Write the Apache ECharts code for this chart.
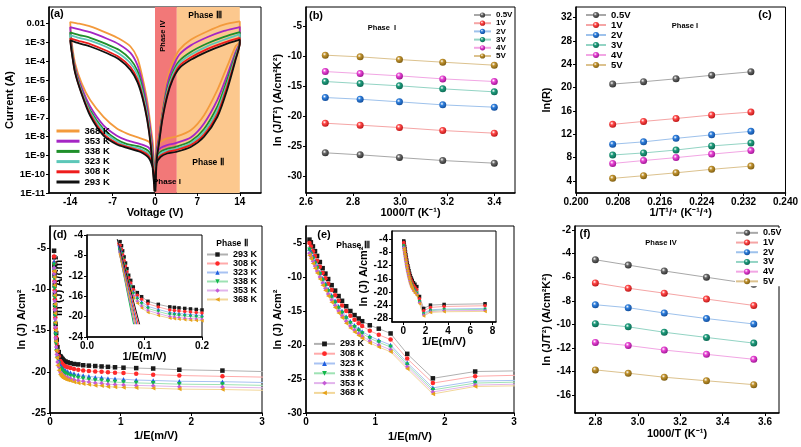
<!DOCTYPE html>
<html><head><meta charset="utf-8">
<script src="https://cdn.jsdelivr.net/npm/echarts@6/dist/echarts.min.js"></script>
<style>html,body{margin:0;padding:0;background:#fff}#c{width:801px;height:447px}</style>
</head><body><div id="c"></div>
<script>
// ================= DATA =================
// Panel (a): I-V loops, values are log10(Current/A)
const tempsA = ['368 K','353 K','338 K','323 K','308 K','293 K'];
const aPosLowX = [0.05,0.27,0.93,2.0,3.4,5.9,8.1,10.3,11.9,13.3,14];
const aPosUpX  = [14,11.4,8.6,5.9,4.0,2.9,2.0,1.2,0.66,0.27,0.05];
const aNegLowX = [-0.05,-0.3,-1,-2.4,-4.6,-6.3,-8.5,-10.7,-12.1,-13.2,-13.8,-14];
const aNegUpX  = [-14,-12.5,-10.7,-7.9,-5.9,-4.05,-2.9,-2.1,-1.3,-0.7,-0.3,-0.05];
const a368PosLow = [-10.9,-8.55,-8.28,-8.1,-8.01,-7.66,-6.86,-5.52,-4.28,-3.21,-2.94];
const a368PosUp  = [-1.88,-2.05,-2.41,-2.85,-3.39,-4.1,-4.99,-6.59,-7.84,-8.37,-10.9];
const a368NegLow = [-10.9,-8.7,-8.28,-8.1,-7.84,-7.57,-6.95,-6.06,-5.17,-4.1,-2.85,-1.91];
const a368NegUp  = [-1.91,-2.0,-2.14,-2.5,-2.8,-3.21,-3.83,-4.81,-6.06,-7.48,-8.55,-10.9];
const a353PosLow = [-10.9,-8.9,-8.6,-8.45,-8.35,-8.05,-7.3,-6.05,-4.75,-3.5,-2.97];
const a353PosUp  = [-2.18,-2.38,-2.72,-3.15,-3.65,-4.35,-5.25,-6.8,-8.0,-8.7,-10.9];
const a353NegLow = [-10.9,-9.1,-8.6,-8.4,-8.2,-7.95,-7.4,-6.4,-5.4,-4.3,-3.1,-2.18];
const a353NegUp  = [-2.18,-2.3,-2.45,-2.8,-3.1,-3.55,-4.2,-5.1,-6.4,-7.8,-9.0,-10.9];
const a338PosLow = [-10.9,-9.1,-8.8,-8.65,-8.55,-8.25,-7.6,-6.4,-5.0,-3.65,-3.0];
const a338PosUp  = [-2.45,-2.7,-3.05,-3.5,-3.98,-4.62,-5.5,-6.9,-8.15,-8.95,-10.9];
const a338NegLow = [-10.9,-9.3,-8.8,-8.55,-8.4,-8.15,-7.6,-6.6,-5.55,-4.4,-3.2,-2.46];
const a338NegUp  = [-2.46,-2.6,-2.75,-3.1,-3.4,-3.9,-4.5,-5.4,-6.7,-8.1,-9.4,-10.9];
const a323PosLow = [-10.9,-9.2,-8.9,-8.75,-8.65,-8.35,-7.75,-6.6,-5.2,-3.75,-3.0];
const a323PosUp  = [-2.55,-2.85,-3.2,-3.65,-4.1,-4.75,-5.65,-6.98,-8.25,-9.05,-10.9];
const a323NegLow = [-10.9,-9.4,-8.95,-8.65,-8.5,-8.25,-7.7,-6.7,-5.6,-4.5,-3.3,-2.6];
const a323NegUp  = [-2.6,-2.75,-2.9,-3.25,-3.6,-4.1,-4.7,-5.6,-6.8,-8.2,-9.6,-10.9];
const a308PosLow = [-10.9,-9.3,-9.0,-8.82,-8.72,-8.45,-7.9,-6.8,-5.35,-3.85,-3.02];
const a308PosUp  = [-2.75,-3.0,-3.35,-3.8,-4.25,-4.9,-5.78,-7.05,-8.3,-9.15,-10.9];
const a308NegLow = [-10.9,-9.6,-9.05,-8.75,-8.55,-8.35,-7.85,-6.8,-5.7,-4.55,-3.35,-2.78];
const a308NegUp  = [-2.78,-2.92,-3.08,-3.45,-3.78,-4.3,-4.95,-5.8,-7.0,-8.4,-9.8,-10.9];
const a293PosLow = [-10.9,-9.44,-9.08,-8.9,-8.82,-8.55,-8.01,-6.95,-5.52,-3.92,-3.03];
const a293PosUp  = [-2.85,-3.12,-3.48,-3.92,-4.37,-4.99,-5.88,-7.12,-8.37,-9.26,-10.9];
const a293NegLow = [-10.9,-9.8,-9.15,-8.82,-8.6,-8.42,-7.95,-6.9,-5.75,-4.6,-3.4,-2.89];
const a293NegUp  = [-2.89,-3.05,-3.21,-3.57,-3.9,-4.45,-5.1,-5.9,-7.1,-8.5,-10.0,-10.9];
const aTicksX = [-14,-7,0,7,14];
const aTicksY = [-11,-10,-9,-8,-7,-6,-5,-4,-3,-2];
const phaseIV = [0, 3.6];
const phaseII = [3.6, 14];

// Panels (b),(c),(f)
const voltNames = ['0.5V','1V','2V','3V','4V','5V'];
const bX = [2.682,2.830,2.997,3.181,3.4];
const b05 = [-26.1,-26.44,-26.89,-27.39,-27.83];
const b1  = [-21.17,-21.5,-21.89,-22.39,-22.83];
const b2  = [-16.89,-17.17,-17.61,-18.11,-18.5];
const b3  = [-14.22,-14.56,-14.94,-15.44,-15.94];
const b4  = [-12.56,-12.89,-13.28,-13.78,-14.22];
const b5  = [-9.83,-10.11,-10.56,-11.0,-11.5];
const cX = [0.207,0.2129,0.2191,0.2259,0.2334];
const c05 = [20.6,21.0,21.5,22.1,22.7];
const c1  = [13.7,14.2,14.7,15.3,15.8];
const c2  = [10.3,10.7,11.3,11.9,12.5];
const c3  = [8.45,8.8,9.3,10.0,10.5];
const c4  = [7.0,7.5,8.0,8.6,9.2];
const c5  = [4.45,4.9,5.4,6.0,6.55];
const fX = [2.8,2.955,3.125,3.324,3.547];
const f05 = [-4.52,-4.97,-5.47,-6.0,-6.6];
const f1  = [-6.48,-6.93,-7.35,-7.85,-8.39];
const f2  = [-8.33,-8.58,-9.03,-9.5,-9.96];
const f3  = [-9.93,-10.2,-10.66,-11.1,-11.58];
const f4  = [-11.52,-11.78,-12.17,-12.53,-12.95];
const f5  = [-13.85,-14.13,-14.47,-14.77,-15.1];

// Panel (d) Phase II
const tempsD = ['293 K','308 K','323 K','338 K','353 K','368 K'];
const dX = [0.0575,0.06,0.062,0.0645,0.067,0.0695,0.0725,0.076,0.0805,0.0875,0.095,0.106,0.124,0.144,0.152,0.16,0.17,0.18,0.19,0.2,0.22,0.25,0.29,0.34,0.4,0.47,0.55,0.64,0.73,0.82,0.92,1.04,1.22,1.46,1.83,2.44,3.66];
const d293 = [-5.3,-6.1,-7.1,-8.3,-9.5,-10.6,-11.9,-12.9,-14.2,-15.3,-16.1,-17.0,-17.6,-18.1,-18.2,-18.3,-18.4,-18.5,-18.6,-18.7,-18.75,-18.85,-18.95,-19.05,-19.1,-19.2,-19.25,-19.3,-19.35,-19.4,-19.45,-19.5,-19.55,-19.6,-19.75,-19.85,-20.1];
const d308 = [-6.0,-6.8,-7.8,-9.0,-10.1,-11.2,-12.4,-13.4,-14.7,-15.8,-16.6,-17.5,-18.1,-18.7,-18.8,-18.9,-19.0,-19.1,-19.2,-19.3,-19.35,-19.45,-19.55,-19.65,-19.75,-19.85,-19.9,-19.95,-20.0,-20.05,-20.1,-20.15,-20.25,-20.35,-20.45,-20.55,-20.75];
const d323 = [-6.6,-7.3,-8.3,-9.5,-10.6,-11.7,-12.9,-13.8,-15.1,-16.2,-17.1,-18.0,-18.6,-19.2,-19.3,-19.4,-19.5,-19.6,-19.7,-19.8,-19.85,-19.95,-20.1,-20.2,-20.35,-20.45,-20.55,-20.65,-20.7,-20.8,-20.85,-20.9,-21.0,-21.05,-21.15,-21.2,-21.4];
const d338 = [-7.0,-7.7,-8.7,-9.9,-11.0,-12.1,-13.2,-14.2,-15.5,-16.6,-17.5,-18.4,-19.0,-19.6,-19.7,-19.8,-19.9,-20.0,-20.1,-20.2,-20.25,-20.35,-20.5,-20.6,-20.75,-20.85,-20.95,-21.05,-21.1,-21.2,-21.25,-21.3,-21.35,-21.4,-21.5,-21.55,-21.75];
const d353 = [-7.4,-8.1,-9.1,-10.3,-11.4,-12.5,-13.6,-14.6,-15.9,-17.0,-17.9,-18.8,-19.4,-20.0,-20.1,-20.2,-20.3,-20.4,-20.45,-20.5,-20.6,-20.7,-20.8,-20.95,-21.05,-21.15,-21.25,-21.35,-21.4,-21.5,-21.55,-21.6,-21.65,-21.7,-21.8,-21.85,-22.05];
const d368 = [-7.8,-8.5,-9.5,-10.7,-11.8,-12.9,-14.0,-15.0,-16.3,-17.4,-18.3,-19.2,-19.8,-20.3,-20.4,-20.5,-20.6,-20.7,-20.75,-20.8,-20.9,-21.0,-21.1,-21.25,-21.35,-21.45,-21.55,-21.65,-21.7,-21.8,-21.85,-21.9,-21.95,-22.0,-22.1,-22.15,-22.35];
// inset (d) linear fits: start/end points
const dFitX0 = [0.0525,0.053,0.054,0.0545,0.055,0.056];
const dFitY0 = [-4.8,-5.5,-6.0,-6.5,-7.0,-7.5];
const dFitX1 = [0.0915,0.089,0.0865,0.081,0.083,0.085];
const dFitY1 = [-21.5,-21.5,-21.5,-21.5,-21.5,-21.5];

// Panel (e) Phase III
const eX = [0.05,0.07,0.1,0.13,0.16,0.2,0.24,0.28,0.32,0.37,0.42,0.47,0.52,0.58,0.64,0.7,0.76,0.81,0.92,1.05,1.22,1.46,1.83,2.44,3.66,7.32];
const e293 = [-4.5,-4.9,-5.5,-6.2,-6.9,-7.8,-8.7,-9.5,-10.3,-11.2,-12.0,-12.8,-13.5,-14.3,-15.0,-15.6,-16.1,-16.5,-17.1,-17.6,-18.3,-21.3,-24.9,-23.9,-23.7,-23.5];
const e308 = [-5.0,-5.5,-6.2,-6.9,-7.6,-8.5,-9.4,-10.2,-11.0,-11.9,-12.7,-13.5,-14.2,-15.0,-15.7,-16.3,-16.8,-17.2,-17.9,-18.5,-19.2,-22.0,-25.6,-24.6,-24.3,-24.1];
const e323 = [-5.8,-6.3,-7.0,-7.7,-8.4,-9.3,-10.2,-11.0,-11.8,-12.7,-13.5,-14.3,-15.0,-15.8,-16.5,-17.1,-17.6,-18.0,-18.7,-19.3,-20.0,-22.6,-26.3,-25.3,-25.1,-24.9];
const e338 = [-6.0,-6.6,-7.3,-8.0,-8.7,-9.6,-10.5,-11.3,-12.1,-13.0,-13.8,-14.6,-15.3,-16.1,-16.8,-17.4,-17.9,-18.3,-19.0,-19.6,-20.3,-22.9,-26.6,-25.6,-25.3,-25.2];
const e353 = [-6.5,-7.0,-7.7,-8.4,-9.1,-10.0,-10.9,-11.7,-12.5,-13.4,-14.2,-15.0,-15.7,-16.5,-17.2,-17.8,-18.3,-18.7,-19.4,-20.0,-20.7,-23.2,-26.9,-25.9,-25.6,-25.5];
const e368 = [-6.8,-7.3,-8.0,-8.7,-9.4,-10.3,-11.2,-12.0,-12.8,-13.7,-14.5,-15.3,-16.0,-16.8,-17.5,-18.1,-18.6,-19.0,-19.7,-20.3,-21.0,-23.5,-27.2,-26.1,-25.9,-25.8];

// ================= STYLE / BUILD =================
const FONT = "'Liberation Sans', Arial, sans-serif";
const pairs = (xs, ys) => xs.map((x, i) => [x, ys[i]]);
const txt = (fs) => ({fontFamily: FONT, fontWeight: 'bold', fontSize: fs, color: '#000'});

function axis(dim, gi, min, max, ticks, name, gap, fmt, fs) {
  const o = {
    type: 'value', gridIndex: gi, min: min, max: max, name: name,
    nameLocation: 'middle', nameGap: gap, nameTextStyle: txt(11),
    axisLine: {show: true, onZero: false, lineStyle: {color: '#000', width: 1.5}},
    axisTick: {show: true, length: 3, customValues: ticks, lineStyle: {color: '#000', width: 1}},
    axisLabel: Object.assign({customValues: ticks, margin: 4}, txt(fs || 10)),
    splitLine: {show: false}
  };
  if (fmt) o.axisLabel.formatter = fmt;
  if (dim === 'y') o.nameRotate = 90;
  return o;
}

const grids = [
  {left: 49, top: 7, width: 212, height: 186},
  {left: 306, top: 7, width: 209, height: 186},
  {left: 576, top: 7, width: 210, height: 186},
  {left: 50, top: 226, width: 212, height: 187},
  {left: 306, top: 226, width: 208, height: 187},
  {left: 575, top: 226, width: 204, height: 187},
  {left: 87, top: 235, width: 115, height: 102},
  {left: 392, top: 231, width: 104, height: 91}
].map(g => Object.assign({show: true, borderColor: '#000', borderWidth: 1, backgroundColor: 'rgba(255,255,255,0)', containLabel: false}, g));
grids[6].backgroundColor = '#fff';
grids[7].backgroundColor = '#fff';

const fx1 = v => v.toFixed(1);
const xAxes = [
  axis('x', 0, -17.5, 17.5, aTicksX, 'Voltage (V)', 10),
  axis('x', 1, 2.6, 3.488, [2.6,2.8,3.0,3.2,3.4], '1000/T (K⁻¹)', 13, fx1),
  axis('x', 2, 0.2, 0.24, [0.2,0.208,0.216,0.224,0.232,0.24], '1/T¹/⁴ (K⁻¹/⁴)', 11, v => v.toFixed(3)),
  axis('x', 3, 0, 3, [0,1,2,3], '1/E(m/V)', 17),
  axis('x', 4, 0, 3, [0,1,2,3], '1/E(m/V)', 18),
  axis('x', 5, 2.704, 3.666, [2.8,3.0,3.2,3.4,3.6], '1000/T (K⁻¹)', 15, fx1),
  axis('x', 6, 0, 0.2, [0,0.1,0.2], '1/E(m/V)', 9, fx1),
  axis('x', 7, -1, 8.3, [0,2,4,6,8], '1/E(m/V)', 8)
];
const yAxes = [
  axis('y', 0, -11, -1.11, aTicksY, 'Current (A)', 34, v => v === -2 ? '0.01' : '1E' + v, 9.5),
  axis('y', 1, -32.8, -1.8, [-30,-25,-20,-15,-10,-5], 'ln (J/T²) (A/cm²K²)', 22),
  axis('y', 2, 1.94, 33.8, [4,8,12,16,20,24,28,32], 'ln(R)', 24),
  axis('y', 3, -25, -2.3, [-25,-20,-15,-10,-5], 'ln (J) A/cm²', 20),
  axis('y', 4, -30, -2.5, [-30,-25,-20,-15,-10,-5], 'ln (J) A/cm²', 21),
  axis('y', 5, -17.5, -1.66, [-16,-14,-12,-10,-8,-6,-4,-2], 'ln (J/T²) (A/cm²K²)', 22),
  axis('y', 6, -24, -4, [-24,-20,-16,-12,-8,-4], 'ln (J) A/cm²', 16),
  axis('y', 7, -29, -1.5, [-28,-24,-20,-16,-12,-8,-4], 'ln (J) A/cm²', 17)
];

const series = [];
// phase shading
series.push({
  type: 'line', xAxisIndex: 0, yAxisIndex: 0, data: [], z: 1, silent: true,
  markArea: {silent: true, data: [
    [{xAxis: phaseIV[0], itemStyle: {color: '#f27878'}}, {xAxis: phaseIV[1]}],
    [{xAxis: phaseII[0], itemStyle: {color: '#fcc88e'}}, {xAxis: phaseII[1]}]
  ]}
});
const aCols = ['#f39a3c','#a526c4','#1f8f2a','#5cc7b8','#ee1c1c','#111111'];
const aSets = [
  [a368PosLow,a368PosUp,a368NegLow,a368NegUp],
  [a353PosLow,a353PosUp,a353NegLow,a353NegUp],
  [a338PosLow,a338PosUp,a338NegLow,a338NegUp],
  [a323PosLow,a323PosUp,a323NegLow,a323NegUp],
  [a308PosLow,a308PosUp,a308NegLow,a308NegUp],
  [a293PosLow,a293PosUp,a293NegLow,a293NegUp]
];
aSets.forEach((s, i) => {
  series.push({
    type: 'line', name: tempsA[i] + ' ', xAxisIndex: 0, yAxisIndex: 0, z: 3,
    data: [].concat(pairs(aPosLowX, s[0]), pairs(aPosUpX, s[1]), pairs(aNegLowX, s[2]), pairs(aNegUpX, s[3])),
    symbol: 'none', smooth: 0.25, color: aCols[i], lineStyle: {color: aCols[i], width: 1.8}
  });
});

// volt series b, c, f
const vCol = ['#6a6a6a','#ff4a4a','#2f7fdc','#1f9c7c','#e846d4','#c0922e'];
const vDark = ['#2a2a2a','#b81212','#0f4a98','#0a6650','#9a1090','#7a5a10'];
const vLine = ['#a8a8a8','#f5a5a5','#9ec2ec','#93d4c4','#f2a6e4','#dcc28e'];
const sphere = k => ({type: 'radial', x: 0.38, y: 0.35, r: 0.7, colorStops: [
  {offset: 0, color: '#ffffff'}, {offset: 0.35, color: vCol[k]}, {offset: 1, color: vDark[k]}]});
[[1, bX, [b05,b1,b2,b3,b4,b5]], [2, cX, [c05,c1,c2,c3,c4,c5]], [5, fX, [f05,f1,f2,f3,f4,f5]]].forEach(([ai, xs, ys]) => {
  ys.forEach((y, k) => {
    series.push({
      type: 'line', name: voltNames[k], xAxisIndex: ai, yAxisIndex: ai, z: 3,
      data: pairs(xs, y), symbol: 'circle', symbolSize: 7,
      itemStyle: {color: sphere(k)}, lineStyle: {color: vLine[k], width: 1}
    });
  });
});

// d, e series
const dCol = ['#1a1a1a','#ff2a2a','#1f5fe0','#12b84a','#c55ad6','#e6a21a'];
const dLine = ['#b0b0b0','#ffaaaa','#a8c2f2','#9ee2b4','#e2b4ec','#f2d79a'];
const dSym = ['rect','circle','triangle','triangle','diamond','triangle'];
const dRot = [0,0,0,180,0,90];
const dSets = [d293,d308,d323,d338,d353,d368];
const eSets = [e293,e308,e323,e338,e353,e368];
[[3, dX, dSets, 4.5], [6, dX, dSets, 3.5], [4, eX, eSets, 4.5], [7, eX, eSets, 3.5]].forEach(([ai, xs, sets, sz]) => {
  sets.forEach((y, k) => {
    series.push({
      type: 'line', name: tempsD[k], xAxisIndex: ai, yAxisIndex: ai, z: 3,
      data: pairs(xs, y), symbol: dSym[k], symbolRotate: dRot[k], symbolSize: sz,
      itemStyle: {color: dCol[k]}, lineStyle: {color: dLine[k], width: 1}
    });
  });
});
dFitX0.forEach((x0, k) => {
  series.push({
    type: 'line', name: 'fit ' + tempsD[k], xAxisIndex: 6, yAxisIndex: 6, z: 4,
    data: [[x0, dFitY0[k]], [dFitX1[k], dFitY1[k]]], symbol: 'none',
    lineStyle: {color: dCol[k], width: 1}
  });
});

const legTxt = (fs, lh) => Object.assign(txt(fs), {lineHeight: lh});
const legends = [
  {data: tempsA.map(t => t + ' '), left: 55, top: 126, itemWidth: 23, itemHeight: 10, itemGap: 0.2,
   lineStyle: {width: 3}, itemStyle: {opacity: 0}, textStyle: legTxt(9.5, 10)},
  {data: voltNames, left: 473, top: 11, itemWidth: 17, itemHeight: 6.5, itemGap: 0.2, textStyle: legTxt(8, 8)},
  {data: voltNames, left: 585, top: 10, itemWidth: 20, itemHeight: 7.5, itemGap: 0, textStyle: legTxt(9.5, 10)},
  {data: tempsD, left: 206, top: 250, itemWidth: 21, itemHeight: 5.5, itemGap: 0, textStyle: legTxt(9, 8.5)},
  {data: tempsD, left: 313, top: 339, itemWidth: 21, itemHeight: 6, itemGap: 0, textStyle: legTxt(9, 9.8)},
  {data: voltNames, left: 735, top: 228, itemWidth: 22, itemHeight: 7.5, itemGap: 0, textStyle: legTxt(9, 9.7), backgroundColor: '#fff'}
].map(l => Object.assign({orient: 'vertical', padding: 0, selectedMode: false, itemSymbolKeepAspect: true}, l));

function label(text, x, y, fs, rot) {
  return {type: 'text', x: x, y: y, rotation: rot || 0, z: 100,
    style: {text: text, font: 'bold ' + fs + 'px ' + FONT, fill: '#000', align: 'center', verticalAlign: 'middle'}};
}
const graphics = [
  label('(a)', 57, 14, 11), label('Phase IV', 163, 36, 7.5, Math.PI / 2),
  label('Phase Ⅲ', 205, 16, 8.5), label('Phase Ⅱ', 208, 163, 8.5), label('Phase I', 167, 182, 8),
  label('(b)', 316, 16, 11), label('Phase  I', 382, 28, 7.5),
  label('(c)', 765, 15, 11), label('Phase I', 685, 26, 7.5),
  label('(d)', 60, 235, 11), label('Phase Ⅱ', 232, 244, 8.5),
  label('(e)', 324, 235, 11), label('Phase Ⅲ', 353, 246, 8.5),
  label('(f)', 585, 234, 11), label('Phase IV', 661, 243, 7.5)
];

const chart = echarts.init(document.getElementById('c'), null, {renderer: 'canvas'});
chart.setOption({
  animation: false,
  backgroundColor: '#fff',
  grid: grids, xAxis: xAxes, yAxis: yAxes,
  legend: legends, series: series, graphic: graphics
});
</script></body></html>
